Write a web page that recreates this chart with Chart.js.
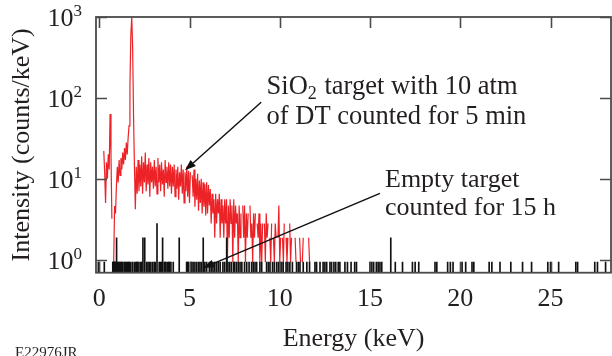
<!DOCTYPE html>
<html><head><meta charset="utf-8">
<script src="https://cdn.jsdelivr.net/npm/chart.js@4.4.1/dist/chart.umd.min.js"></script>
<style>html,body{margin:0;padding:0;background:#fff}#wrap{width:612px;height:356px;position:relative}</style>
</head><body><div id="wrap"><canvas id="c" width="612" height="356"></canvas></div>
<script>
// ---- data ----
const xTickValues = [0, 5, 10, 15, 20, 25];
const yTickValues = [1, 10, 100, 1000];
const yTickExponents = ['0', '1', '2', '3'];
const xTitle = 'Energy (keV)';
const yTitle = 'Intensity (counts/keV)';
const figureId = 'E22976JR';

// SiO2 target spectrum: channel calibration and counts/keV per channel
const sio2StartKeV = 0.20;
const sio2StepKeV = 0.05;
const sio2Intensity = [
  0, 22, 12, 5, 16, 10, 20, 13, 63, 20, 3.2, 0, 0.93, 4.6, 3.7, 8,
  14, 9, 17, 11, 18, 13, 21, 15, 24, 17, 28, 20, 32, 45, 140, 600, 1000, 420, 60, 14,
  4.2, 14, 6.5, 17, 7, 15, 8, 19, 6.5, 16, 9, 21, 7, 15, 8.5, 18, 6, 16, 9, 14,
  7.5, 17, 8, 14, 6.5, 18, 9, 15, 7, 16, 8.5, 13, 6, 17, 9, 14, 7.5, 16, 8, 15,
  6.5, 14, 8, 15, 6, 13, 7.5, 14, 5.5, 12, 8, 15, 6.5, 13, 5, 12, 7, 14, 6, 12.5,
  5, 12, 0, 11, 6, 13, 4.5, 10, 5.5, 11.5, 4, 9.5, 5, 10, 3.7, 9, 4.5, 8.5, 3.5, 9,
  3.72, 8.37, 4.65, 7.44, 2.79, 6.51, 3.72, 5.58, 1.86, 6.51, 2.79, 5.58, 3.72, 6.51, 1.86, 5.58, 2.79, 4.65, 1.86, 5.58,
  2.79, 5.58, 0.93, 4.65, 1.86, 5.58, 2.79, 4.65, 0.93, 5.58, 1.86, 4.65, 2.79, 3.72, 0.93, 4.65, 1.86, 3.72, 0, 4.65,
  1.86, 4.65, 0.93, 3.72, 1.86, 3.72, 0, 4.65, 1.86, 2.79, 0.93, 3.72, 1.86, 3.72, 0, 2.79, 1.86, 3.72, 0.93, 2.79,
  0.93, 2.79, 0, 2.79, 0.93, 3.72, 1.86, 2.79, 0, 1.86, 0.93, 2.79, 0, 1.86, 0.93, 2.79, 1.86, 0, 1.86, 4.65,
  0.93, 1.86, 0, 1.86, 0.93, 2.79, 0, 1.86, 0.93, 1.86, 0, 2.79, 0.93, 1.86, 0, 0.93, 0, 1.86, 0.93, 0,
  0.93, 0, 1.86, 0.93, 0, 0.93, 1.86, 0, 0.93, 0, 0.93, 0, 1.86, 0.93, 0, 0.93, 0, 0, 0.93, 0,
  0, 0.93, 0, 0, 0.93, 0, 0, 0, 0.93, 0, 0, 0.93, 0, 0, 0, 0, 0.93, 0, 0.93, 0,
  0, 0, 0, 0.93, 0, 0, 0.93, 0, 0, 0.93, 0, 0, 0, 0, 0, 0, 0, 0, 0, 0,
  0, 0, 0, 0, 0, 0, 0, 0, 0.93, 0
];

// Empty target: energies (keV) of non-empty channels and their counts/keV
const emptyEnergies = [
  -0.05, 0.0, 0.28, 0.75, 0.78, 0.8, 0.83, 0.85, 0.88, 0.9, 0.96, 1.0, 1.05, 1.1, 1.15, 1.2, 1.25,
  1.3, 1.38, 1.45, 1.5, 1.57, 1.62, 1.66, 1.75, 1.85, 1.95, 2.03, 2.08, 2.13, 2.2, 2.3, 2.35,
  2.42, 2.52, 2.62, 2.7, 2.77, 2.86, 2.96, 3.05, 3.1, 3.2, 3.32, 3.4, 3.45, 3.51, 3.6, 3.65,
  3.7, 3.8, 3.85, 3.9, 3.97, 4.1, 4.43, 4.84, 4.9, 4.93, 5.05, 5.12, 5.2, 5.3, 5.4, 5.5, 5.58,
  5.67, 5.76, 5.85, 5.95, 6.1, 6.2, 6.3, 6.4, 6.5, 6.6, 6.7, 6.85, 6.95, 7.06, 7.13, 7.23,
  7.33, 7.45, 7.5, 7.6, 7.7, 7.8, 7.9, 8.05, 8.17, 8.3, 8.44, 8.53, 8.63, 8.72, 8.9, 9.0,
  9.27, 9.37, 9.46, 9.6, 9.7, 9.83, 9.93, 10.03, 10.1, 10.19, 10.35, 10.45, 10.56, 10.7,
  10.93, 11.03, 11.12, 11.3, 11.5, 11.65, 11.95, 12.04, 12.23, 12.4, 12.5, 12.6, 12.78,
  12.87, 13.0, 13.1, 13.24, 13.33, 13.61, 13.75, 13.95, 14.15, 14.25, 15.0, 15.1, 15.2, 15.35,
  15.45, 15.55, 15.65, 16.15, 16.4, 16.8, 17.35, 17.5, 17.7, 18.6, 18.7, 19.3, 19.45, 19.6,
  20.1, 20.3, 20.65, 20.75, 21.6, 21.75, 22.2, 22.8, 23.45, 23.95, 24.85, 25.0, 25.45, 26.4,
  26.5, 27.45, 27.6, 28.05
];
const emptyIntensity = [
  0.93, 0.93, 0.93, 0.93, 0.93, 0.93, 0.93, 0.93, 0.93, 0.93, 1.86, 0.93, 0.93, 0.93, 0.93, 0.93, 0.93,
  0.93, 0.93, 0.93, 0.93, 0.93, 0.93, 0.93, 0.93, 0.93, 0.93, 0.93, 0.93, 0.93, 0.93, 0.93, 0.93,
  1.86, 1.86, 0.93, 0.93, 0.93, 0.93, 0.93, 0.93, 0.93, 2.79, 0.93, 0.93, 0.93, 1.86, 0.93, 0.93,
  0.93, 0.93, 0.93, 0.93, 0.93, 0.93, 1.86, 0.93, 0.93, 0.93, 0.93, 0.93, 0.93, 0.93, 0.93, 0.93, 0.93,
  0.93, 1.86, 0.93, 0.93, 0.93, 0.93, 0.93, 0.93, 0.93, 0.93, 0.93, 0.93, 0.93, 1.86, 0.93, 0.93,
  0.93, 0.93, 0.93, 0.93, 0.93, 0.93, 0.93, 0.93, 0.93, 0.93, 0.93, 0.93, 0.93, 0.93, 0.93, 0.93,
  0.93, 0.93, 0.93, 0.93, 0.93, 0.93, 0.93, 0.93, 0.93, 0.93, 0.93, 0.93, 0.93, 0.93,
  0.93, 0.93, 0.93, 0.93, 0.93, 0.93, 0.93, 0.93, 0.93, 0.93, 0.93, 0.93, 0.93,
  0.93, 0.93, 0.93, 0.93, 0.93, 0.93, 0.93, 0.93, 0.93, 0.93, 0.93, 0.93, 0.93, 0.93,
  0.93, 0.93, 0.93, 1.86, 0.93, 0.93, 0.93, 0.93, 0.93, 0.93, 0.93, 0.93, 0.93, 0.93,
  0.93, 0.93, 0.93, 0.93, 0.93, 0.93, 0.93, 0.93, 0.93, 0.93, 0.93, 0.93, 0.93, 0.93,
  0.93, 0.93, 0.93, 0.93
];

// annotation text (anchors in data coordinates: keV, counts/keV)
const note1Lines = ['SiO', '2', ' target with 10 atm', 'of DT counted for 5 min'];
const note2Lines = ['Empty target', 'counted for 15 h'];

// ---- build ----
const sio2Points = sio2Intensity.map((v, i) => ({ x: +(sio2StartKeV + i * sio2StepKeV).toFixed(2), y: v }));
const emptyPoints = emptyEnergies.map((e, i) => ({ x: e, y: emptyIntensity[i] }));

const SERIF = '"Liberation Serif", "Times New Roman", serif';
const INK = '#231f20';

const overlay = {
  id: 'overlay',
  afterDatasetsDraw(chart) {
    const { ctx, chartArea: a, scales: { x, y } } = chart;
    ctx.save();
    // frame
    ctx.strokeStyle = '#4b4b4b';
    ctx.lineWidth = 1.8;
    ctx.strokeRect(a.left, a.top, a.right - a.left, a.bottom - a.top);
    // inward ticks
    ctx.lineWidth = 1.6;
    ctx.beginPath();
    xTickValues.forEach(v => {
      const px = Math.round(x.getPixelForValue(v)) + 0.5;
      ctx.moveTo(px, a.top); ctx.lineTo(px, a.top + 11);
      ctx.moveTo(px, a.bottom); ctx.lineTo(px, a.bottom - 11);
    });
    yTickValues.forEach(v => {
      const py = Math.round(y.getPixelForValue(v)) + 0.5;
      ctx.moveTo(a.left, py); ctx.lineTo(a.left + 11, py);
      ctx.moveTo(a.right, py); ctx.lineTo(a.right - 11, py);
    });
    ctx.stroke();

    // annotations
    const arrow = (x0, y0, x1, y1) => {
      const ang = Math.atan2(y1 - y0, x1 - x0);
      const L = 11, W = 4;
      const bx = x1 - L * Math.cos(ang), by = y1 - L * Math.sin(ang);
      ctx.strokeStyle = '#111';
      ctx.lineWidth = 1.5;
      ctx.beginPath(); ctx.moveTo(x0, y0); ctx.lineTo(bx, by); ctx.stroke();
      ctx.beginPath();
      ctx.moveTo(x1, y1);
      ctx.lineTo(bx + W * Math.sin(ang), by - W * Math.cos(ang));
      ctx.lineTo(bx - W * Math.sin(ang), by + W * Math.cos(ang));
      ctx.closePath(); ctx.fillStyle = '#111'; ctx.fill();
    };
    arrow(x.getPixelForValue(8.97), y.getPixelForValue(88.3), x.getPixelForValue(4.75), y.getPixelForValue(12.7));
    arrow(x.getPixelForValue(15.55), y.getPixelForValue(6.58), x.getPixelForValue(5.75), y.getPixelForValue(0.788));

    ctx.fillStyle = INK;
    ctx.textAlign = 'left';
    ctx.textBaseline = 'alphabetic';
    const t1x = x.getPixelForValue(9.27), t1y = y.getPixelForValue(112);
    ctx.font = '26.5px ' + SERIF;
    ctx.fillText(note1Lines[0], t1x, t1y);
    let w = ctx.measureText(note1Lines[0]).width;
    ctx.font = '18px ' + SERIF;
    ctx.fillText(note1Lines[1], t1x + w, t1y + 5);
    w += ctx.measureText(note1Lines[1]).width + 1;
    ctx.font = '26.5px ' + SERIF;
    ctx.fillText(note1Lines[2], t1x + w, t1y);
    ctx.fillText(note1Lines[3], t1x, t1y + 30);

    ctx.font = '26px ' + SERIF;
    const t2x = x.getPixelForValue(15.83), t2y = y.getPixelForValue(7.88);
    ctx.fillText(note2Lines[0], t2x, t2y);
    ctx.fillText(note2Lines[1], t2x, t2y + 27.5);
    ctx.restore();
  },
  afterDraw(chart) {
    const { ctx, scales: { y } } = chart;
    ctx.save();
    ctx.fillStyle = INK;
    ctx.textBaseline = 'alphabetic';
    const right = 82;
    yTickValues.forEach((v, i) => {
      const py = y.getPixelForValue(v);
      ctx.font = '17px ' + SERIF;
      ctx.textAlign = 'right';
      const ew = ctx.measureText(yTickExponents[i]).width;
      ctx.fillText(yTickExponents[i], right, py - 1);
      ctx.font = '26px ' + SERIF;
      ctx.fillText('10', right - ew, py + 9);
    });
    ctx.font = '15px ' + SERIF;
    ctx.textAlign = 'left';
    ctx.fillText(figureId, 15, 357);
    ctx.restore();
  }
};

new Chart(document.getElementById('c'), {
  type: 'line',
  data: {
    datasets: [
      {
        type: 'bar',
        label: 'Empty target counted for 15 h',
        data: emptyPoints,
        backgroundColor: '#111111',
        borderWidth: 0,
        barThickness: 1,
        grouped: false,
        order: 1
      },
      {
        type: 'line',
        label: 'SiO2 target with 10 atm of DT counted for 5 min',
        data: sio2Points,
        borderColor: '#ec2227',
        borderWidth: 1.2,
        pointRadius: 0,
        tension: 0,
        fill: false,
        clip: 0,
        order: 2
      }
    ]
  },
  options: {
    responsive: false,
    animation: false,
    devicePixelRatio: 1,
    layout: { padding: { top: 17, right: 1, left: 0, bottom: 0 } },
    plugins: { legend: { display: false }, tooltip: { enabled: false } },
    scales: {
      x: {
        type: 'linear',
        min: -0.18,
        max: 28.35,
        offset: false,
        afterBuildTicks: s => { s.ticks = xTickValues.map(v => ({ value: v })); },
        afterFit: s => { s.height = 83.3; },
        ticks: {
          font: { family: SERIF, size: 26 },
          color: INK,
          padding: 3,
          maxRotation: 0,
          autoSkip: false
        },
        grid: { display: false },
        border: { display: false },
        title: {
          display: true,
          text: xTitle,
          color: INK,
          font: { family: SERIF, size: 26, lineHeight: 1 },
          padding: { top: 0, bottom: 4 }
        }
      },
      y: {
        type: 'logarithmic',
        min: 0.687,
        max: 1000,
        afterBuildTicks: s => { s.ticks = yTickValues.map(v => ({ value: v })); },
        afterFit: s => { s.width = 96; },
        ticks: { display: false },
        grid: { display: false },
        border: { display: false },
        title: {
          display: true,
          text: yTitle,
          color: INK,
          font: { family: SERIF, size: 26, lineHeight: 1 },
          padding: { top: 9, bottom: 0 }
        }
      }
    }
  },
  plugins: [overlay]
});
</script>
</body></html>
